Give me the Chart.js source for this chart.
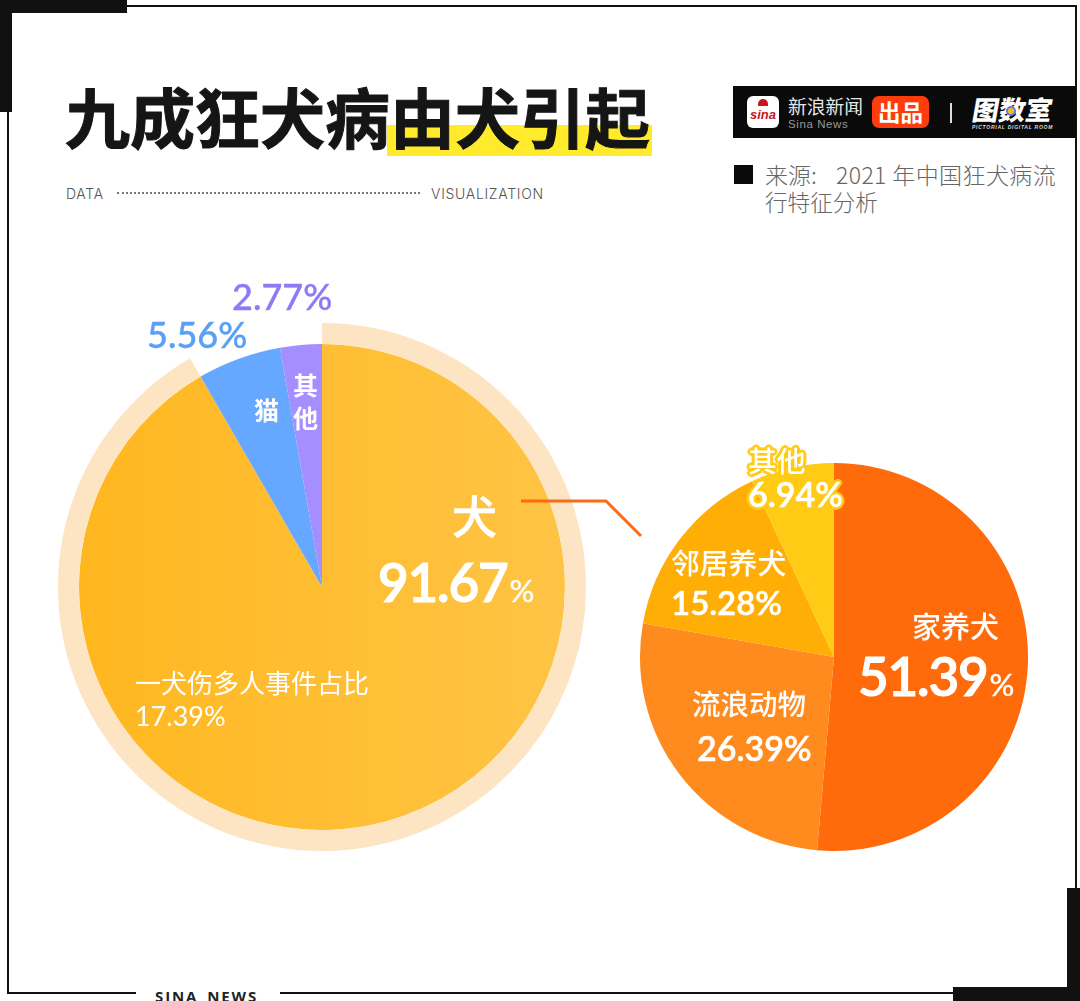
<!DOCTYPE html>
<html>
<head>
<meta charset="utf-8">
<script src="https://cdn.jsdelivr.net/npm/chart.js@4"></script>
<style>
  html, body { margin: 0; padding: 0; background: #fff; }
  #page { position: relative; width: 1080px; height: 1001px; overflow: hidden; background: #fff;
          font-family: "Noto Sans CJK SC", sans-serif; }
  #page > * { position: absolute; }
  .k { background: #111; }
  .t { white-space: nowrap; line-height: 1; }
  .w { color: #fff; font-weight: 500; }
  .num { font-family: Lato, sans-serif; }
  .big { letter-spacing: -1.2px; -webkit-text-stroke: 1.1px #fff; }
  .mid { -webkit-text-stroke: .5px #fff; }
  .halo { text-shadow: 3px 0 #FFCB14, -3px 0 #FFCB14, 0 3px #FFCB14, 0 -3px #FFCB14, 2px 2px #FFCB14, -2px 2px #FFCB14, 2px -2px #FFCB14, -2px -2px #FFCB14; }
  canvas { display: block; }
</style>
</head>
<body>
<div id="page">
  <!-- frame -->
  <div class="k" style="left:127px;top:5px;width:949px;height:2px"></div>
  <div class="k" style="left:7px;top:112px;width:2px;height:882px"></div>
  <div class="k" style="left:7px;top:992px;width:129px;height:2px"></div>
  <div class="k" style="left:280px;top:992px;width:673px;height:2px"></div>
  <div class="k" style="left:1075px;top:5px;width:2px;height:883px"></div>
  <div class="k" style="left:0;top:0;width:127px;height:13px"></div>
  <div class="k" style="left:0;top:0;width:12px;height:112px"></div>
  <div class="k" style="left:953px;top:987px;width:127px;height:14px"></div>
  <div class="k" style="left:1067px;top:888px;width:13px;height:113px"></div>
  <div class="t" style="left:155px;top:986px;font:bold 15px 'Open Sans',sans-serif;letter-spacing:1.9px;color:#222;word-spacing:3px">SINA NEWS</div>

  <!-- title -->
  <div style="left:387px;top:125px;width:265px;height:31px;background:#FFEB2B"></div>
  <div class="t" id="title" style="left:65px;top:83px;font-size:65px;font-weight:700;color:#151515;-webkit-text-stroke:1px #151515"></div>
  <div class="t" style="left:66px;top:185px;font:300 14px Inter,sans-serif;letter-spacing:.7px;color:#555">DATA</div>
  <div style="left:117px;top:192px;width:303px;border-top:2px dotted #777"></div>
  <div class="t" style="left:431px;top:185px;font:300 14px Inter,sans-serif;letter-spacing:.7px;color:#555">VISUALIZATION</div>

  <!-- header banner -->
  <div style="left:733px;top:86px;width:343px;height:52px;background:#0a0a0a"></div>
  <div style="left:747px;top:96px;width:32px;height:32px;border-radius:6px;background:#fff"></div>
  <div class="t" style="left:748px;top:107px;width:30px;text-align:center;font:italic bold 13px 'Liberation Sans',sans-serif;color:#c8161d">sina</div>
  <div style="left:758px;top:99px;width:10px;height:7px;border-radius:6px 6px 0 0;background:#c8161d"></div>
  <div class="t" style="left:788px;top:97px;font-size:18.8px;color:#e6e6e6">新浪新闻</div>
  <div class="t" style="left:788px;top:118px;font:11.5px 'Liberation Sans',sans-serif;letter-spacing:.6px;color:#999">Sina News</div>
  <div style="left:872px;top:96px;width:57px;height:32px;border-radius:7px;background:#FF3D0C"></div>
  <div class="t" style="left:878px;top:100px;font-size:22.5px;font-weight:700;color:#fff">出品</div>
  <div style="left:950px;top:103px;width:2px;height:20px;background:#ddd"></div>
  <div class="t" style="left:973px;top:96px;font-size:26.5px;font-weight:900;color:#fff;transform:skewX(-10deg)">图数室</div>
  <div style="left:1006px;top:106px;width:6px;height:6px;border-radius:50%;background:#f0c020;border:2px solid #6a78d8"></div>
  <div class="t" style="left:972px;top:124px;font:italic bold 5px 'Liberation Sans',sans-serif;letter-spacing:.75px;color:#ddd">PICTORIAL DIGITAL ROOM</div>

  <!-- source -->
  <div style="left:734px;top:165px;width:19px;height:19px;background:#0a0a0a"></div>
  <div class="t" style="left:765px;top:163px;font-size:23px;font-weight:300;color:#666">来源:</div>
  <div class="t" style="left:836px;top:163px;font-size:23px;font-weight:300;color:#666;letter-spacing:.4px">2021 年中国狂犬病流</div>
  <div class="t" style="left:765px;top:191px;font-size:22.6px;font-weight:300;color:#666">行特征分析</div>

  <!-- pies -->
  <div style="left:57px;top:322px;width:530px;height:530px"><canvas id="mainPie" width="530" height="530"></canvas></div>
  <div style="left:639px;top:462px;width:390px;height:390px"><canvas id="subPie" width="390" height="390"></canvas></div>

  <!-- connector -->
  <svg style="left:0;top:0" width="1080" height="1001"><polyline points="521,501 606,501 641,536" fill="none" stroke="#FF6A14" stroke-width="3"/></svg>

  <!-- left pie labels -->
  <div class="t num" id="otherPct" style="left:232px;top:278px;font-size:36px;font-weight:500;color:#8B7BF5;-webkit-text-stroke:.4px #8B7BF5"></div>
  <div class="t num" id="catPct" style="left:147px;top:316px;font-size:36px;font-weight:500;color:#5AA0F5;-webkit-text-stroke:.4px #5AA0F5"></div>
  <div class="t w" id="catName" style="left:254px;top:397px;font-size:25px;font-weight:700"></div>
  <div class="t w" id="otherName" style="left:293px;top:372px;font-size:25px;font-weight:700;width:25px;white-space:normal;line-height:33px;margin-top:-4px"></div>
  <div class="t w mid" id="dogName" style="left:452px;top:492px;font-size:45px;font-weight:500"></div>
  <div class="t num w big" id="dogPct" style="left:378px;top:555px;font-size:53px;font-weight:600"></div>
  <div class="t w" id="biteName" style="left:135px;top:669px;font-size:26px;font-weight:400"></div>
  <div class="t num w" id="bitePct" style="left:135px;top:702px;font-size:27px;font-weight:400"></div>

  <!-- right pie labels -->
  <div class="t w" id="name0" style="left:912px;top:611px;font-size:29px"></div>
  <div class="t num w big" id="pct0" style="left:858px;top:649px;font-size:53px;font-weight:600"></div>
  <div class="t w" id="name1" style="left:692px;top:689px;font-size:28.5px"></div>
  <div class="t num w mid" id="pct1" style="left:697px;top:731px;font-size:34px;font-weight:600"></div>
  <div class="t w" id="name2" style="left:671px;top:548px;font-size:28.8px"></div>
  <div class="t num w mid" id="pct2" style="left:671px;top:586px;font-size:33px;font-weight:600"></div>
  <div class="t w halo" id="name3" style="left:748px;top:446px;font-size:28.8px"></div>
  <div class="t num w halo mid" id="pct3" style="left:748px;top:477px;font-size:34px;font-weight:600"></div>
</div>

<script>
// chart values
const mainCategories = ["犬", "猫", "其他"];
const mainValues = [91.67, 5.56, 2.77];
const mainColors = ["#FFBC2C", "#66A8FF", "#A58EFF"];
const ringColors = ["#FDE4C2", "rgba(0,0,0,0)", "rgba(0,0,0,0)"];

const subCategories = ["家养犬", "流浪动物", "邻居养犬", "其他"];
const subValues = [51.39, 26.39, 15.28, 6.94];
const subColors = ["#FF6A0A", "#FF8A1E", "#FFAE05", "#FFCB14"];

const titleText = "九成狂犬病由犬引起";
const biteCategory = "一犬伤多人事件占比";
const biteValue = 17.39;

function setText(id, text) {
    document.getElementById(id).textContent = text;
}

// number with a smaller percent sign
function setBigPct(id, value) {
    const el = document.getElementById(id);
    el.textContent = value.toFixed(2);
    const sign = document.createElement("span");
    sign.textContent = "%";
    sign.style.fontSize = "31px";
    sign.style.fontWeight = "400";
    sign.style.letterSpacing = "0";
    sign.style.marginLeft = "2px";
    sign.style.webkitTextStroke = ".4px #fff";
    el.appendChild(sign);
}

setText("title", titleText);
setText("dogName", mainCategories[0]);
setText("catName", mainCategories[1]);
setText("otherName", mainCategories[2]);
setBigPct("dogPct", mainValues[0]);
setText("catPct", mainValues[1].toFixed(2) + "%");
setText("otherPct", mainValues[2].toFixed(2) + "%");
setText("biteName", biteCategory);
setText("bitePct", biteValue.toFixed(2) + "%");

subCategories.forEach(function (name, i) {
    setText("name" + i, name);
    if (i === 0) {
        setBigPct("pct0", subValues[0]);
    } else {
        setText("pct" + i, subValues[i].toFixed(2) + "%");
    }
});

const noExtras = {
    responsive: false,
    animation: false,
    devicePixelRatio: 1,
    cutout: 0,
    plugins: { legend: { display: false }, tooltip: { enabled: false } }
};

// the dog slice has a soft left-to-right gradient
const mainCanvas = document.getElementById("mainPie");
const mainCtx = mainCanvas.getContext("2d");
const dogGradient = mainCtx.createLinearGradient(20, 0, 510, 0);
dogGradient.addColorStop(0, "#FFB71F");
dogGradient.addColorStop(1, "#FFC445");

new Chart(mainCtx, {
    type: "pie",
    data: {
        labels: mainCategories,
        datasets: [
            { data: mainValues, backgroundColor: ringColors, borderWidth: 0, weight: 21 },
            { data: mainValues, backgroundColor: [dogGradient, mainColors[1], mainColors[2]], borderWidth: 0, weight: 243 }
        ]
    },
    options: Object.assign({}, noExtras, { layout: { padding: 1 } })
});

new Chart(document.getElementById("subPie"), {
    type: "pie",
    data: {
        labels: subCategories,
        datasets: [{ data: subValues, backgroundColor: subColors, borderWidth: 0 }]
    },
    options: Object.assign({}, noExtras, { layout: { padding: 1 } })
});
</script>
</body>
</html>
